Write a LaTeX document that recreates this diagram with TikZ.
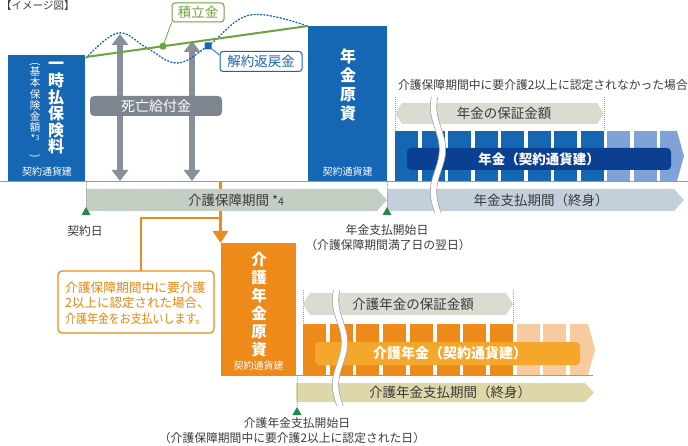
\documentclass[tikz,border=0pt]{standalone}
\usepackage{fontspec}
\usepackage{graphicx}
\setmainfont{Noto Sans CJK JP}
\usetikzlibrary{arrows.meta}
\definecolor{myblue}{HTML}{1566B3}
\definecolor{navy}{HTML}{0B3F91}
\definecolor{ltblue}{HTML}{7FA2D9}
\definecolor{hexgray}{HTML}{DCDBD2}
\definecolor{paygray}{HTML}{C3D0DC}
\definecolor{kgreen}{HTML}{C4CFC3}
\definecolor{grn}{HTML}{6CA43B}
\definecolor{markc}{HTML}{1E8C4E}
\definecolor{arrgray}{HTML}{878F98}
\definecolor{boxgray}{HTML}{7D868F}
\definecolor{orng}{HTML}{EE8A1A}
\definecolor{ltorng}{HTML}{F8CAA0}
\definecolor{gold}{HTML}{F4A72B}
\definecolor{khaki}{HTML}{DDD7AA}
\definecolor{txt}{HTML}{3A3A3A}
\definecolor{otxt}{HTML}{E8850F}
\definecolor{linegray}{HTML}{9A9A9A}
\definecolor{wavec}{HTML}{A0A0A0}
\newcommand{\fsz}[2]{\fontsize{#1}{#2}\selectfont}
\newcommand{\mybreak}[3]{%
  \fill[white] plot[domain=0:#3,samples=60,variable=\t] ({#1-3.2-4.5*sin(\t*4.2353+48)},{#2+\t}) -- plot[domain=#3:0,samples=60,variable=\t] ({#1+3.2-4.5*sin(\t*4.2353+48)},{#2+\t}) -- cycle;
  \draw[wavec,line width=0.6pt] plot[domain=0:#3,samples=60,variable=\t] ({#1-3.2-4.5*sin(\t*4.2353+48)},{#2+\t});
  \draw[wavec,line width=0.6pt] plot[domain=0:#3,samples=60,variable=\t] ({#1+3.2-4.5*sin(\t*4.2353+48)},{#2+\t});
}
\tikzset{
  lbl/.style={inner sep=0pt, text=txt, font=\fsz{11.8}{14}},
  vtext/.style={align=center, inner sep=0pt, text=white},
  small/.style={inner sep=0pt, text=white, font=\fsz{10}{12}},
  dotln/.style={linegray, line width=0.6pt, dash pattern=on 0.8pt off 1.2pt},
  baseln/.style={linegray, line width=1pt},
  gray2arrow/.style={arrgray, line width=6pt, {Triangle[width=16pt,length=11pt]}-{Triangle[width=16pt,length=11pt]}},
  tri/.style={markc},
  barlbl/.style={inner sep=0pt, text=txt, font=\fsz{13.5}{16}},
  coline/.style={inner sep=0pt, anchor=west, text=otxt, font=\fsz{12.5}{15}},
}
\begin{document}
\begin{tikzpicture}[x=1pt,y=-1pt]
\useasboundingbox (0,0) rectangle (688,446);

% title
\node[lbl, anchor=west, font=\fsz{10.5}{12}] (title) at (1,6) {【イメージ図】};

% premium box
\fill[myblue] (8,55) rectangle (85,182);
\node[vtext, font=\fsz{16}{16.6}\bfseries] (prem) at (56,108.5) {一\\時\\払\\保\\険\\料};
\node[vtext, font=\fsz{10.5}{11.2}] (premsub) at (35,110) {\rotatebox{-90}{(}\\基\\本\\保\\険\\金\\額\\*\raisebox{2.5pt}{\fsz{7}{7}3}\\\rotatebox{-90}{)}};
\node[small] (cur1) at (47,172) {契約通貨建};

% annuity source box
\fill[myblue] (308,26) rectangle (387,182);
\node[vtext, font=\fsz{16}{19}\bfseries] (nensrc) at (348,85) {年\\金\\原\\資};
\node[small] (cur2) at (347.5,172) {契約通貨建};

% death benefit arrows
\draw[gray2arrow] (120,34) -- (120,181);
\draw[gray2arrow] (192,41) -- (192,181);
\node[fill=boxgray, rounded corners=4pt, minimum width=132pt, minimum height=20pt, inner sep=0pt, text=white, font=\fsz{14}{16}] (death) at (156,106) {死亡給付金};

% cash value curve & accumulation line
\draw[myblue, line width=1.4pt, dash pattern=on 1.1pt off 2.2pt, line cap=round] plot[smooth, tension=0.65] coordinates {(86,58) (118,33) (147,48) (177,63) (208,46) (250,15) (307,26)};
\draw[grn, line width=2pt] (86,57) -- (308,26);
\coordinate (gdot) at (163,46.2);
\coordinate (bdot) at (208,46);
\node[draw=grn, fill=white, rounded corners=3pt, line width=1pt, minimum width=52pt, minimum height=19pt, inner sep=0pt, text=grn, font=\fsz{13.5}{16}] (acc) at (198,12.5) {積立金};
\node[draw=myblue, fill=white, rounded corners=3pt, line width=1pt, minimum width=82pt, minimum height=20pt, inner sep=0pt, text=myblue, font=\fsz{13.5}{16}] (surr) at (261,61.5) {解約返戻金};
\draw[grn, line width=0.8pt] (gdot) -- (acc.south west);
\draw[myblue, line width=0.8pt] (bdot) -- ([yshift=-4pt]surr.north west);
\fill[grn] (gdot) circle (3.6pt);
\fill[myblue, rounded corners=1pt] (204.5,42.5) rectangle (211.5,49.5);

% orange arrow & callout (behind the care period bar)
\coordinate (ostart) at (220.5,182);
\coordinate (obranch) at (220.5,218);
\draw[orng, line width=3pt, -{Triangle[width=15pt,length=12pt]}] (ostart) -- (220.5,243);
\fill[white] (56,269) rectangle (216,335);
\draw[orng, line width=1.3pt, rounded corners=4pt] (58,271) rectangle (214,333);
\node[coline] (co1) at (65,288) {\scalebox{1.02}[1]{介護保障期間中に要介護}};
\node[coline] (co2) at (65,303) {\scalebox{1.0}[1]{2以上に認定された場合、}};
\node[coline] (co3) at (65,318.5) {\scalebox{0.875}[1]{介護年金をお支払いします。}};
\coordinate (cotop) at (141,271);
\draw[orng, line width=1.3pt] (obranch) -| (cotop);

% baseline
\draw[baseln] (0,182) -- (688,182);

% period bars
\fill[kgreen] (86,189) -- (377,189) -- (387,200) -- (377,211) -- (86,211) -- cycle;
\node[barlbl] (kper) at (236,200) {介護保障期間 {\fsz{13}{14}*}{\fsz{10.5}{12}4}};
\fill[paygray] (387,189) -- (674,189) -- (684,200) -- (674,211) -- (387,211) -- cycle;
\node[barlbl] (nper) at (541,200) {年金支払期間（終身）};

% top annuity section
\node[lbl, anchor=east] (cond) at (688,85) {介護保障期間中に要介護2以上に認定されなかった場合};
\draw[dotln] (395,97) -- (395,131);
\draw[dotln] (604,97) -- (604,131);
\fill[hexgray] (395,113.5) -- (402,103) -- (597,103) -- (604,113.5) -- (597,124) -- (402,124) -- cycle;
\node[barlbl] (guar1) at (504,113.5) {年金の保証金額};
\foreach \i in {0,...,7} { \fill[myblue] ({395+\i*26.5},131) rectangle ++(23,50); }
\foreach \i in {8,9} { \fill[ltblue] ({395+\i*26.5},131) rectangle ++(23,50); }
\fill[ltblue] (660,131) -- (677,131) -- (684,156) -- (677,181) -- (660,181) -- cycle;
\fill[navy, rounded corners=4pt] (407,148) rectangle (671,170);
\node[inner sep=0pt, text=white, font=\fsz{13.5}{16}\bfseries] (ann) at (539,159) {年金（契約通貨建）};
\mybreak{438}{97}{116}

% markers top
\draw[dotln] (86,182) -- (86,207);
\draw[dotln] (387,182) -- (387,207);
\fill[tri] (86,207) -- (90.5,215) -- (81.5,215) -- cycle;
\fill[tri] (387,207) -- (391.5,215) -- (382.5,215) -- cycle;
\node[lbl] (d1) at (85,231) {契約日};
\node[lbl] (d2) at (387,230) {年金支払開始日};
\node[lbl] (d2b) at (388,245) {（介護保障期間満了日の翌日）};

% care annuity source box
\fill[orng] (221,243) rectangle (296,375);
\node[vtext, font=\fsz{15.5}{18}\bfseries] (ksrc) at (259,304.5) {介\\護\\年\\金\\原\\資};
\node[small] (cur3) at (258.5,366) {契約通貨建};

% bottom care annuity section
\draw[dotln] (303,290) -- (303,324);
\draw[dotln] (513,290) -- (513,324);
\fill[hexgray] (303,304) -- (310,293) -- (506,293) -- (513,304) -- (506,315) -- (310,315) -- cycle;
\node[barlbl] (guar2) at (413,304) {介護年金の保証金額};
\foreach \i in {0,...,7} { \fill[orng] ({303+\i*26.7},324) rectangle ++(23,51); }
\foreach \i in {8,9} { \fill[ltorng] ({303+\i*26.7},324) rectangle ++(23,51); }
\fill[ltorng] (570,324) -- (588,324) -- (595,349.5) -- (588,375) -- (570,375) -- cycle;
\fill[gold, rounded corners=4pt] (315,342) rectangle (580,365);
\node[inner sep=0pt, text=white, font=\fsz{14}{16}\bfseries] (kann) at (450,353.5) {介護年金（契約通貨建）};
\draw[baseln] (221,375) -- (593,375);
\fill[khaki] (296,383) -- (585,383) -- (594,392.5) -- (585,402) -- (296,402) -- cycle;
\node[barlbl] (kpay) at (450,392.5) {介護年金支払期間（終身）};
\mybreak{340}{290}{116}

% marker bottom
\draw[dotln] (297,375) -- (297,407);
\fill[tri] (297,407) -- (301.5,415) -- (292.5,415) -- cycle;
\node[lbl] (d3) at (297,423) {介護年金支払開始日};
\node[lbl] (d3b) at (292,438) {（介護保障期間中に要介護2以上に認定された日）};
\end{tikzpicture}
\end{document}
